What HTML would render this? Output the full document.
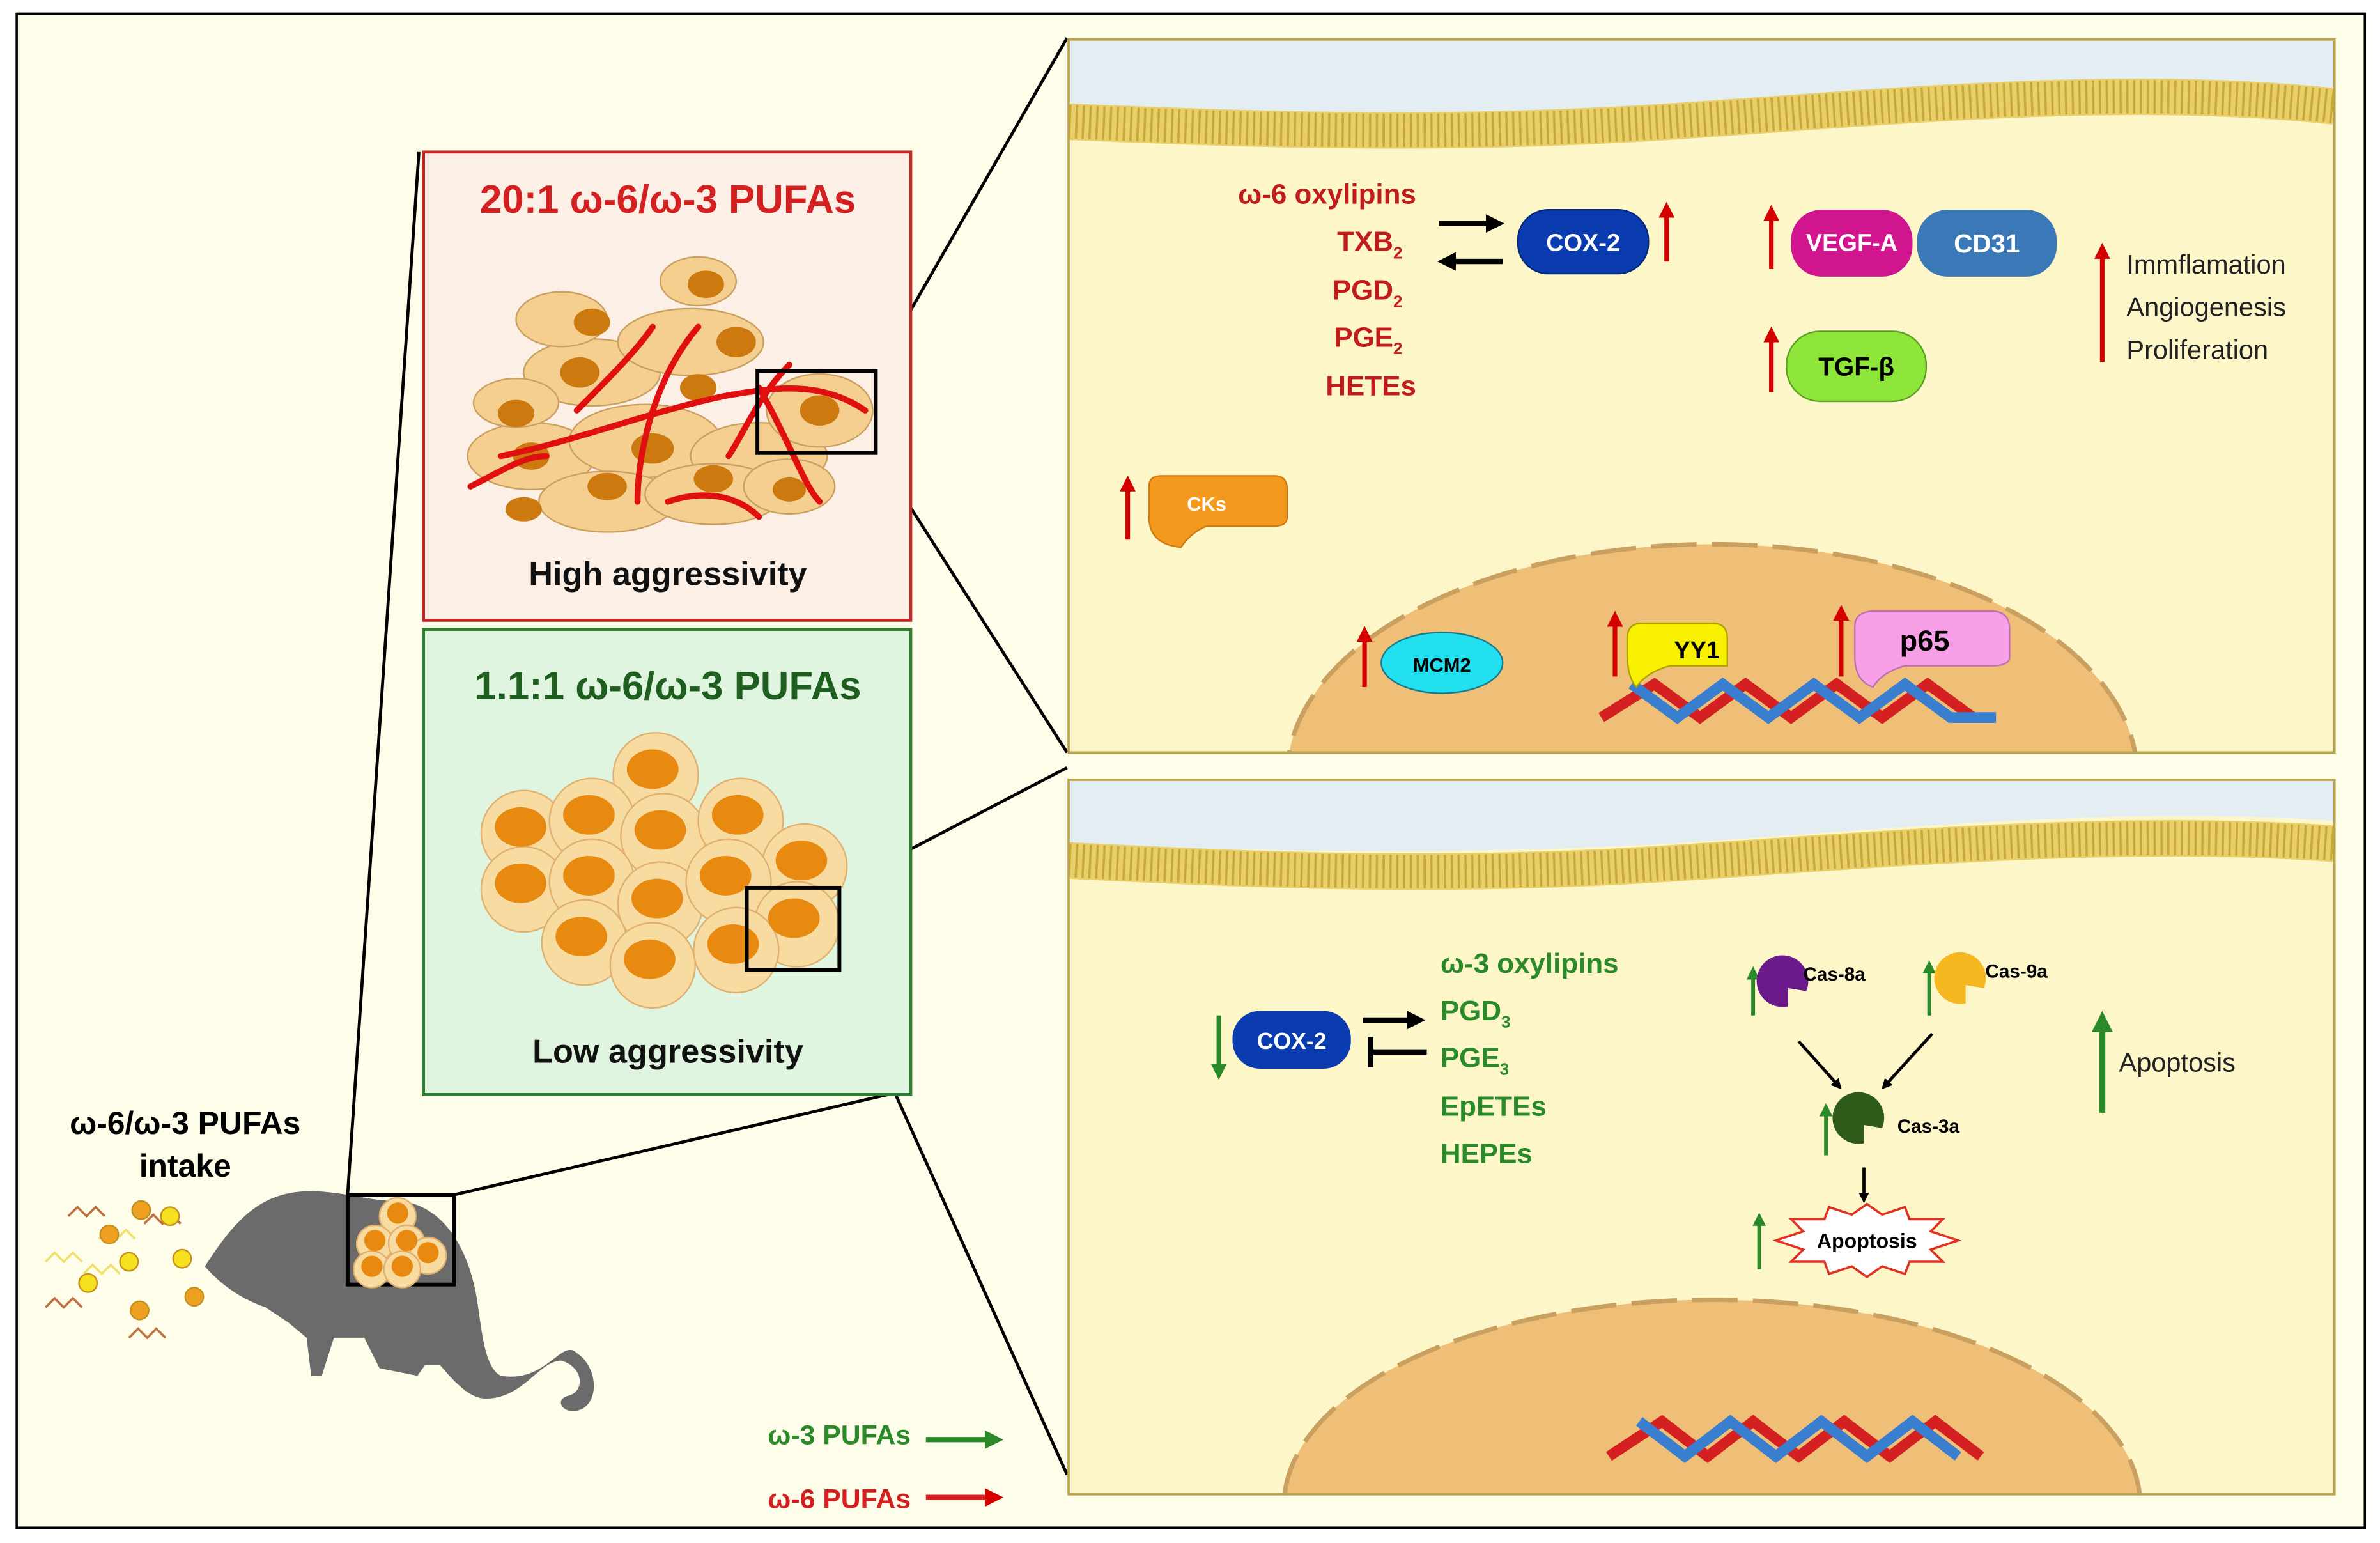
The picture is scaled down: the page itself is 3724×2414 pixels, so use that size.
<!DOCTYPE html>
<html><head><meta charset="utf-8"><style>html,body{margin:0;padding:0;background:#fff;width:3724px;height:2414px;overflow:hidden}svg{display:block}text{font-family:"Liberation Sans",sans-serif;font-weight:bold}</style></head>
<body>
<svg width="3724" height="2414" viewBox="0 0 1568 1015" preserveAspectRatio="none" xmlns="http://www.w3.org/2000/svg">
<defs>
<marker id="ar" viewBox="0 0 10 10" refX="5" refY="5" markerWidth="3.5" markerHeight="3.5" orient="auto"><path d="M0,0L10,5L0,10z" fill="#d40000"/></marker>
<marker id="ag" viewBox="0 0 10 10" refX="5" refY="5" markerWidth="3.5" markerHeight="3.5" orient="auto"><path d="M0,0L10,5L0,10z" fill="#2a8a2a"/></marker>
<marker id="ak" viewBox="0 0 10 10" refX="5" refY="5" markerWidth="3.5" markerHeight="3.5" orient="auto"><path d="M0,0L10,5L0,10z" fill="#000"/></marker>
<clipPath id="c1"><rect x="704" y="26" width="834" height="469"/></clipPath>
<clipPath id="c2"><rect x="704" y="513" width="834" height="470"/></clipPath>
</defs>
<rect x="0" y="0" width="1568" height="1015" fill="#fff"/>
<rect x="11" y="9" width="1547" height="996" fill="#fefde9" stroke="#000" stroke-width="1.5"/>

<g stroke="#000" stroke-width="2" fill="none">
<line x1="229" y1="786" x2="276" y2="100"/><line x1="299" y1="786" x2="585" y2="720"/>
<line x1="577" y1="244" x2="703" y2="25"/><line x1="577" y1="298" x2="703" y2="495"/>
<line x1="553" y1="583" x2="703" y2="505"/><line x1="553" y1="638" x2="703" y2="970"/>
</g>

<g clip-path="url(#c1)">
<rect x="704" y="26" width="834" height="469" fill="#fcf6c9"/>
<path d="M704,26H1538V60C1400,45 1250,60 1100,70C950,80 820,75 704,70z" fill="#e4eef2"/>
<path d="M704,80C820,85 950,90 1100,80C1250,70 1400,55 1538,70" stroke="#e8cf6a" stroke-width="24" fill="none"/>
<path d="M704,80C820,85 950,90 1100,80C1250,70 1400,55 1538,70" stroke="#c9a83a" stroke-width="22" fill="none" stroke-dasharray="1.5 3"/>
<ellipse cx="1128" cy="510" rx="280" ry="152" fill="#efbf78" stroke="#c9a060" stroke-width="3" stroke-dasharray="30 10"/>
</g>
<rect x="704" y="26" width="834" height="469" fill="none" stroke="#b8a24a" stroke-width="1.5"/>
<g font-size="18.5" fill="#c01c1c" text-anchor="end">
<text x="933" y="134">ω-6 oxylipins</text><text x="924" y="165">TXB<tspan font-size="11" dy="5">2</tspan></text>
<text x="924" y="197">PGD<tspan font-size="11" dy="5">2</tspan></text><text x="924" y="228">PGE<tspan font-size="11" dy="5">2</tspan></text>
<text x="933" y="260">HETEs</text></g>
<line x1="948" y1="147" x2="985" y2="147" stroke="#000" stroke-width="3.5" marker-end="url(#ak)"/>
<line x1="990" y1="172" x2="953" y2="172" stroke="#000" stroke-width="3.5" marker-end="url(#ak)"/>
<rect x="1000" y="138" width="86" height="42" rx="20" fill="#0a3cb0" stroke="#06287a"/>
<text x="1043" y="165" font-size="16" fill="#fff" text-anchor="middle" font-weight="normal">COX-2</text>
<rect x="1180" y="138" width="80" height="44" rx="20" fill="#d0158f"/>
<text x="1220" y="165" font-size="16" fill="#fff" text-anchor="middle" font-weight="normal">VEGF-A</text>
<rect x="1263" y="138" width="92" height="44" rx="20" fill="#3a78b8"/>
<text x="1309" y="166" font-size="17" fill="#fff" text-anchor="middle">CD31</text>
<rect x="1177" y="218" width="92" height="46" rx="22" fill="#8ee63a" stroke="#5aa020"/>
<text x="1223" y="247" font-size="17" fill="#000" text-anchor="middle">TGF-β</text>
<g stroke="#d40000" stroke-width="3" marker-end="url(#ar)">
<line x1="1098" y1="172" x2="1098" y2="138"/><line x1="1167" y1="177" x2="1167" y2="140"/>
<line x1="1167" y1="258" x2="1167" y2="220"/><line x1="1385" y1="238" x2="1385" y2="165"/>
<line x1="743" y1="355" x2="743" y2="318"/><line x1="899" y1="452" x2="899" y2="417"/>
<line x1="1064" y1="445" x2="1064" y2="407"/><line x1="1213" y1="445" x2="1213" y2="403"/></g>
<g font-size="17.5" fill="#222"><text x="1401" y="180" style="font-weight:normal">Immflamation</text><text x="1401" y="208" style="font-weight:normal">Angiogenesis</text><text x="1401" y="236" style="font-weight:normal">Proliferation</text></g>
<path d="M757,320Q757,313 765,313H840Q848,313 848,322V340Q848,346 840,346H795Q785,350 778,360Q757,358 757,340z" fill="#f39a1e" stroke="#d07a10"/>
<text x="795" y="336" font-size="13" fill="#fff" text-anchor="middle">CKs</text>
<ellipse cx="950" cy="436" rx="40" ry="20" fill="#22e0f0" stroke="#1a7a90"/>
<text x="950" y="442" font-size="13" fill="#000" text-anchor="middle">MCM2</text>
<g stroke-width="7" fill="none"><path d="M1055,472L1090,450L1120,472L1150,450L1180,472L1210,450L1240,472L1270,450L1300,472" stroke="#d42020"/><path d="M1075,450L1105,472L1135,450L1165,472L1195,450L1225,472L1255,450L1285,472L1315,472" stroke="#3a7ed0"/></g>
<path d="M1072,420Q1072,410 1082,410H1128Q1138,410 1138,420V438H1100Q1085,442 1078,452Q1072,445 1072,430z" fill="#f7f000" stroke="#b0a000"/>
<text x="1118" y="433" font-size="16" fill="#000" text-anchor="middle">YY1</text>
<path d="M1222,412Q1222,402 1235,402H1312Q1324,402 1324,414V432Q1324,438 1312,438H1255Q1240,442 1234,452Q1222,448 1222,432z" fill="#f7a0e8" stroke="#c070b0"/>
<text x="1268" y="428" font-size="19" fill="#000" text-anchor="middle">p65</text>

<g clip-path="url(#c2)">
<rect x="704" y="513" width="834" height="470" fill="#fcf6c9"/>
<path d="M704,513H1538V540C1400,530 1250,545 1100,555C950,563 820,560 704,555z" fill="#e4eef2"/>
<path d="M704,566C820,572 950,578 1100,568C1250,558 1400,545 1538,555" stroke="#e8cf6a" stroke-width="24" fill="none"/>
<path d="M704,566C820,572 950,578 1100,568C1250,558 1400,545 1538,555" stroke="#c9a83a" stroke-width="22" fill="none" stroke-dasharray="1.5 3"/>
<ellipse cx="1128" cy="990" rx="282" ry="135" fill="#efbf78" stroke="#c9a060" stroke-width="3" stroke-dasharray="30 10"/>
</g>
<rect x="704" y="513" width="834" height="470" fill="none" stroke="#b8a24a" stroke-width="1.5"/>
<g stroke-width="7" fill="none"><path d="M1060,958L1095,935L1125,958L1155,935L1185,958L1215,935L1245,958L1275,935L1305,958" stroke="#d42020"/><path d="M1080,935L1110,958L1140,935L1170,958L1200,935L1230,958L1260,935L1290,958" stroke="#3a7ed0"/></g>
<rect x="812" y="665" width="78" height="38" rx="18" fill="#0a3cb0"/>
<text x="851" y="690" font-size="15" fill="#fff" text-anchor="middle" font-weight="normal">COX-2</text>
<line x1="803" y1="668" x2="803" y2="705" stroke="#2a8a2a" stroke-width="3" marker-end="url(#ag)"/>
<line x1="898" y1="671" x2="933" y2="671" stroke="#000" stroke-width="3.5" marker-end="url(#ak)"/>
<line x1="903" y1="692" x2="940" y2="692" stroke="#000" stroke-width="3.5"/><line x1="903" y1="682" x2="903" y2="702" stroke="#000" stroke-width="3.5"/>
<g font-size="18.5" fill="#2a8a2a"><text x="949" y="640">ω-3 oxylipins</text><text x="949" y="671">PGD<tspan font-size="11" dy="5">3</tspan></text>
<text x="949" y="702">PGE<tspan font-size="11" dy="5">3</tspan></text><text x="949" y="734">EpETEs</text><text x="949" y="765">HEPEs</text></g>
<g stroke="#2a8a2a" stroke-width="2.5" marker-end="url(#ag)"><line x1="1155" y1="668" x2="1155" y2="640"/><line x1="1271" y1="668" x2="1271" y2="636"/>
<line x1="1203" y1="760" x2="1203" y2="730"/><line x1="1159" y1="835" x2="1159" y2="802"/></g>
<line x1="1385" y1="732" x2="1385" y2="672" stroke="#2a8a2a" stroke-width="4" marker-end="url(#ag)"/>
<text x="1396" y="705" font-size="17.5" fill="#222" style="font-weight:normal">Apoptosis</text>
<path d="M1178,662A17,17 0 1,1 1190,652L1178,650z" fill="#6a1a8a"/>
<path d="M1295,660A17,17 0 1,1 1307,650L1295,648z" fill="#f5b820"/>
<path d="M1228,752A17,17 0 1,1 1240,742L1228,740z" fill="#2e5a1a"/>
<g font-size="12.5" fill="#000"><text x="1188" y="645">Cas-8a</text><text x="1308" y="643">Cas-9a</text><text x="1250" y="745">Cas-3a</text></g>
<g stroke="#000" stroke-width="2" marker-end="url(#ak)"><line x1="1185" y1="685" x2="1211" y2="714"/><line x1="1273" y1="680" x2="1242" y2="714"/><line x1="1228" y1="768" x2="1228" y2="788"/></g>
<polygon points="1230,792 1240,799 1255,794 1258,802 1280,802 1272,810 1290,816 1272,822 1280,830 1258,830 1255,838 1240,833 1230,840 1220,833 1205,838 1202,830 1180,830 1188,822 1170,816 1188,810 1180,802 1202,802 1205,794 1220,799" fill="#fff" stroke="#e03020" stroke-width="1.5"/>
<text x="1230" y="821" font-size="13.5" fill="#000" text-anchor="middle">Apoptosis</text>

<rect x="279" y="100" width="321" height="308" fill="#fcefe6" stroke="#c02828" stroke-width="2"/>
<text x="440" y="140" font-size="26" fill="#d42020" text-anchor="middle">20:1 ω-6/ω-3 PUFAs</text>
<g fill="#f5cf90" stroke="#caa060" stroke-width="1">
<ellipse cx="390" cy="245" rx="45" ry="22"/><ellipse cx="455" cy="225" rx="48" ry="22"/><ellipse cx="350" cy="300" rx="42" ry="22"/><ellipse cx="425" cy="290" rx="50" ry="24"/>
<ellipse cx="500" cy="300" rx="45" ry="22"/><ellipse cx="540" cy="270" rx="35" ry="24"/><ellipse cx="400" cy="330" rx="45" ry="20"/><ellipse cx="470" cy="325" rx="45" ry="20"/>
<ellipse cx="520" cy="320" rx="30" ry="18"/><ellipse cx="370" cy="210" rx="30" ry="18"/><ellipse cx="460" cy="185" rx="25" ry="16"/><ellipse cx="340" cy="265" rx="28" ry="16"/></g>
<g fill="#cc7a10"><ellipse cx="390" cy="212" rx="12" ry="9"/><ellipse cx="382" cy="245" rx="13" ry="10"/><ellipse cx="465" cy="187" rx="12" ry="9"/><ellipse cx="485" cy="225" rx="13" ry="10"/>
<ellipse cx="340" cy="272" rx="12" ry="9"/><ellipse cx="430" cy="295" rx="14" ry="10"/><ellipse cx="350" cy="300" rx="12" ry="9"/><ellipse cx="540" cy="270" rx="13" ry="10"/>
<ellipse cx="470" cy="315" rx="13" ry="9"/><ellipse cx="400" cy="320" rx="13" ry="9"/><ellipse cx="520" cy="322" rx="11" ry="8"/><ellipse cx="460" cy="255" rx="12" ry="9"/><ellipse cx="345" cy="335" rx="12" ry="8"/></g>
<g stroke="#e01010" stroke-width="4" fill="none" stroke-linecap="round"><path d="M330,300C380,290 430,270 480,260C510,255 540,250 570,270"/><path d="M420,330C420,300 430,250 460,215"/><path d="M380,270C400,250 420,230 430,215"/><path d="M500,255C520,290 530,320 540,330"/><path d="M440,330C470,320 490,330 500,340"/><path d="M310,320C330,310 345,300 360,300"/><path d="M520,240C500,260 490,285 480,300"/></g>
<text x="440" y="385" font-size="22" fill="#111" text-anchor="middle">High aggressivity</text>

<rect x="279" y="414" width="321" height="306" fill="#dff5df" stroke="#2e7d32" stroke-width="2"/>
<text x="440" y="460" font-size="26" fill="#1e5e1e" text-anchor="middle">1.1:1 ω-6/ω-3 PUFAs</text>
<g fill="#f8dba0" stroke="#e0b070">
<circle cx="432" cy="510" r="28"/><circle cx="345" cy="548" r="28"/><circle cx="390" cy="540" r="28"/><circle cx="437" cy="550" r="28"/><circle cx="488" cy="540" r="28"/><circle cx="530" cy="570" r="28"/>
<circle cx="345" cy="585" r="28"/><circle cx="390" cy="580" r="28"/><circle cx="435" cy="595" r="28"/><circle cx="480" cy="580" r="28"/><circle cx="525" cy="608" r="28"/>
<circle cx="385" cy="620" r="28"/><circle cx="430" cy="635" r="28"/><circle cx="485" cy="625" r="28"/></g>
<g fill="#e88a10"><ellipse cx="430" cy="506" rx="17" ry="13"/><ellipse cx="343" cy="544" rx="17" ry="13"/><ellipse cx="388" cy="536" rx="17" ry="13"/><ellipse cx="435" cy="546" rx="17" ry="13"/><ellipse cx="486" cy="536" rx="17" ry="13"/><ellipse cx="528" cy="566" rx="17" ry="13"/>
<ellipse cx="343" cy="581" rx="17" ry="13"/><ellipse cx="388" cy="576" rx="17" ry="13"/><ellipse cx="433" cy="591" rx="17" ry="13"/><ellipse cx="478" cy="576" rx="17" ry="13"/><ellipse cx="523" cy="604" rx="17" ry="13"/>
<ellipse cx="383" cy="616" rx="17" ry="13"/><ellipse cx="428" cy="631" rx="17" ry="13"/><ellipse cx="483" cy="621" rx="17" ry="13"/></g>
<text x="440" y="699" font-size="22" fill="#111" text-anchor="middle">Low aggressivity</text>
<rect x="499" y="244" width="78" height="54" fill="none" stroke="#000" stroke-width="2.5"/>
<rect x="492" y="584" width="61" height="54" fill="none" stroke="#000" stroke-width="2.5"/>

<text x="122" y="746" font-size="21" fill="#000" text-anchor="middle">ω-6/ω-3 PUFAs</text>
<text x="122" y="774" font-size="21" fill="#000" text-anchor="middle">intake</text>
<path d="M135,833C150,810 165,790 190,785C215,780 240,790 260,790C290,790 310,820 315,860C318,880 320,900 330,905C360,910 370,880 380,890C395,900 395,925 380,928C370,930 365,920 375,918C385,915 385,900 370,895C355,895 345,920 320,920C310,920 300,910 290,898L280,898L275,905L250,900L240,880L220,880L212,905L205,905L202,880L190,870L175,860C160,855 145,845 135,833z" fill="#6b6b6b"/>
<rect x="229" y="786" width="70" height="59" fill="none" stroke="#000" stroke-width="2.5"/>
<g fill="#f8dba0" stroke="#e0b070"><circle cx="262" cy="800" r="12"/><circle cx="247" cy="818" r="12"/><circle cx="268" cy="818" r="12"/><circle cx="282" cy="826" r="12"/><circle cx="245" cy="835" r="12"/><circle cx="265" cy="835" r="12"/></g>
<g fill="#e88a10"><circle cx="262" cy="798" r="7"/><circle cx="247" cy="816" r="7"/><circle cx="268" cy="816" r="7"/><circle cx="282" cy="824" r="7"/><circle cx="245" cy="833" r="7"/><circle cx="265" cy="833" r="7"/></g>
<g fill="none" stroke-width="1.5"><path d="M55,838l6,-6l6,6l6,-6l6,6" stroke="#f0e070"/><path d="M30,830l6,-6l6,6l6,-6l6,6" stroke="#f0e070"/><path d="M65,815l6,-6l6,6l6,-6l6,6" stroke="#f0e070"/><path d="M30,860l6,-6l6,6l6,-6l6,6" stroke="#c07040"/><path d="M45,800l6,-6l6,6l6,-6l6,6" stroke="#c07040"/><path d="M85,880l6,-6l6,6l6,-6l6,6" stroke="#c07040"/><path d="M95,805l6,-6l6,6l6,-6l6,6" stroke="#c07040"/></g>
<g stroke="#c09020"><circle cx="72" cy="812" r="6" fill="#f0a020"/><circle cx="93" cy="796" r="6" fill="#f0a020"/><circle cx="58" cy="844" r="6" fill="#f7e020"/><circle cx="85" cy="830" r="6" fill="#f7e020"/><circle cx="112" cy="800" r="6" fill="#f7e020"/><circle cx="120" cy="828" r="6" fill="#f7e020"/><circle cx="92" cy="862" r="6" fill="#f0a020"/><circle cx="128" cy="853" r="6" fill="#f0a020"/></g>

<text x="600" y="950" font-size="18" fill="#2a8a2a" text-anchor="end">ω-3 PUFAs</text>
<line x1="610" y1="947" x2="655" y2="947" stroke="#2a8a2a" stroke-width="3.5" marker-end="url(#ag)"/>
<text x="600" y="992" font-size="18" fill="#d42020" text-anchor="end">ω-6 PUFAs</text>
<line x1="610" y1="985" x2="655" y2="985" stroke="#d42020" stroke-width="3.5" marker-end="url(#ar)"/>
</svg>
</body></html>
